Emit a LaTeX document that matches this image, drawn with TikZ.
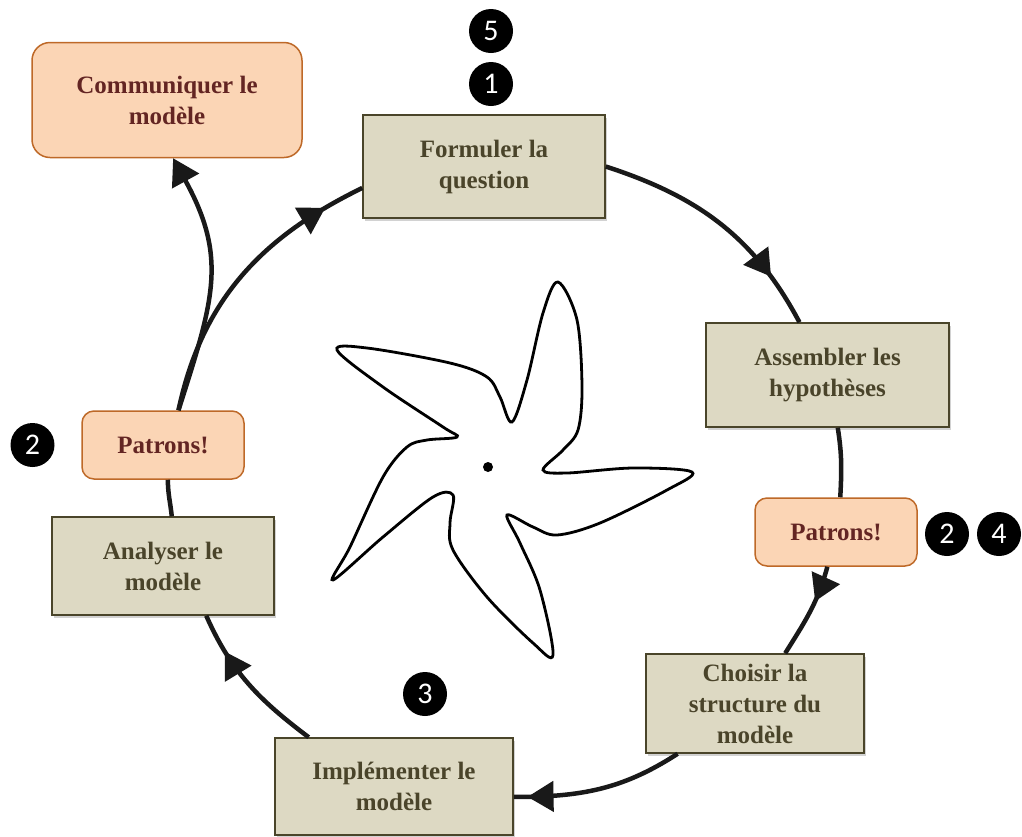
\documentclass[tikz,border=0pt]{standalone}
\usepackage{fontspec}
\setmainfont{Liberation Serif}
\newfontfamily\chiffres{Carlito}
\usetikzlibrary{arrows.meta,decorations.markings,shadows}
\definecolor{gris}{RGB}{221,217,195}
\definecolor{grisbord}{RGB}{74,69,42}
\definecolor{gristexte}{RGB}{74,68,42}
\definecolor{peche}{RGB}{251,213,181}
\definecolor{pechebord}{RGB}{190,105,40}
\definecolor{brique}{RGB}{99,37,35}
\tikzset{
  etape/.style={draw=grisbord, line width=1.5pt, fill=gris, text=gristexte, align=center, inner sep=0pt,
    font=\bfseries\fontsize{25}{31}\selectfont,
    drop shadow={shadow xshift=2pt, shadow yshift=-3pt, opacity=0.35}},
  patron/.style={draw=pechebord, line width=1.5pt, fill=peche, text=brique, align=center, inner sep=0pt,
    rounded corners=12pt, font=\bfseries\fontsize{25}{31}\selectfont},
  pastille/.style={circle, fill=black, text=white, minimum size=44pt, inner sep=0pt,
    font=\chiffres\fontsize{30}{30}\selectfont},
  fleche/.style={line width=4.5pt, draw=black!90},
  milieu/.style={postaction={decorate}, decoration={markings,
    mark=at position #1 with {\arrow{Triangle[length=26pt,width=30pt]}}}}
}
\begin{document}
\begin{tikzpicture}[x=1pt,y=1pt]
\fill[white] (0,0) rectangle (1022,-836);
\path[use as bounding box] (0,0) rectangle (1022,-836);

\node[etape, minimum width=242, minimum height=103] (form) at (484,-166.5) {Formuler la\\question};
\node[etape, minimum width=243, minimum height=104] (assem) at (827.5,-375) {Assembler les\\hypothèses};
\node[patron, minimum width=162, minimum height=68] (patR) at (836,-532) {Patrons!};
\node[etape, minimum width=218, minimum height=99] (choisir) at (755,-703.5) {Choisir la\\structure du\\modèle};
\node[etape, minimum width=238, minimum height=97] (impl) at (394,-786.5) {Implémenter le\\modèle};
\node[etape, minimum width=222, minimum height=98] (anal) at (163,-566) {Analyser le\\modèle};
\node[patron, minimum width=162, minimum height=68] (patL) at (163,-445) {Patrons!};
\node[patron, rounded corners=18pt, minimum width=270, minimum height=115] (comm) at (167,-100) {Communiquer le\\modèle};

\node[pastille] (p5) at (491,-31) {5};
\node[pastille] (p1) at (491,-84) {1};
\node[pastille] (p2a) at (947,-534) {2};
\node[pastille] (p4) at (999,-534) {4};
\node[pastille] (p3) at (425,-694) {3};
\node[pastille] (p2b) at (32.5,-445) {2};

\draw[fleche, milieu=0.79] (form.east) to[out=-18,in=118] (assem.118);
\draw[fleche] (assem.-79) to[out=-81,in=87] (patR.83);
\draw[fleche, milieu=0.38] (patR.-104) to[out=-105,in=58] (choisir.59);
\draw[fleche, milieu=0.92] (choisir.-147) to[out=-147,in=0] (impl.-5);
\draw[fleche, milieu=0.75] (impl.150) to[out=143,in=-66] (anal.-49);
\draw[fleche] (anal.80) to[out=96,in=-90] (patL.-82);
\draw[fleche, milieu=0.86] (patL.66) to[out=78,in=206] (form.190);
\draw[fleche, -{Triangle[length=26pt,width=30pt]}] (patL.66) .. controls +(35,110) and +(55,-100) .. (comm.-84);

\draw[line width=2.8pt] plot[smooth cycle, tension=0.55] coordinates {
  (558,-282) (577,-320) (582,-387) (578,-430) (563,-450) (543,-470)
  (567,-473) (633,-468) (692,-472) (667,-490) (600,-523) (557,-535) (533,-527) (507,-515)
  (520,-543) (540,-590) (553,-655) (533,-643) (487,-597) (453,-550) (450,-523) (453,-495)
  (433,-497) (383,-537) (333,-580) (350,-547) (383,-477) (407,-447) (427,-440) (457,-437)
  (443,-427) (383,-387) (337,-350) (367,-348) (450,-363) (487,-377) (500,-397) (512,-422)
  (527,-380) (543,-313)};
\fill (488,-467) circle (5);
\end{tikzpicture}
\end{document}
